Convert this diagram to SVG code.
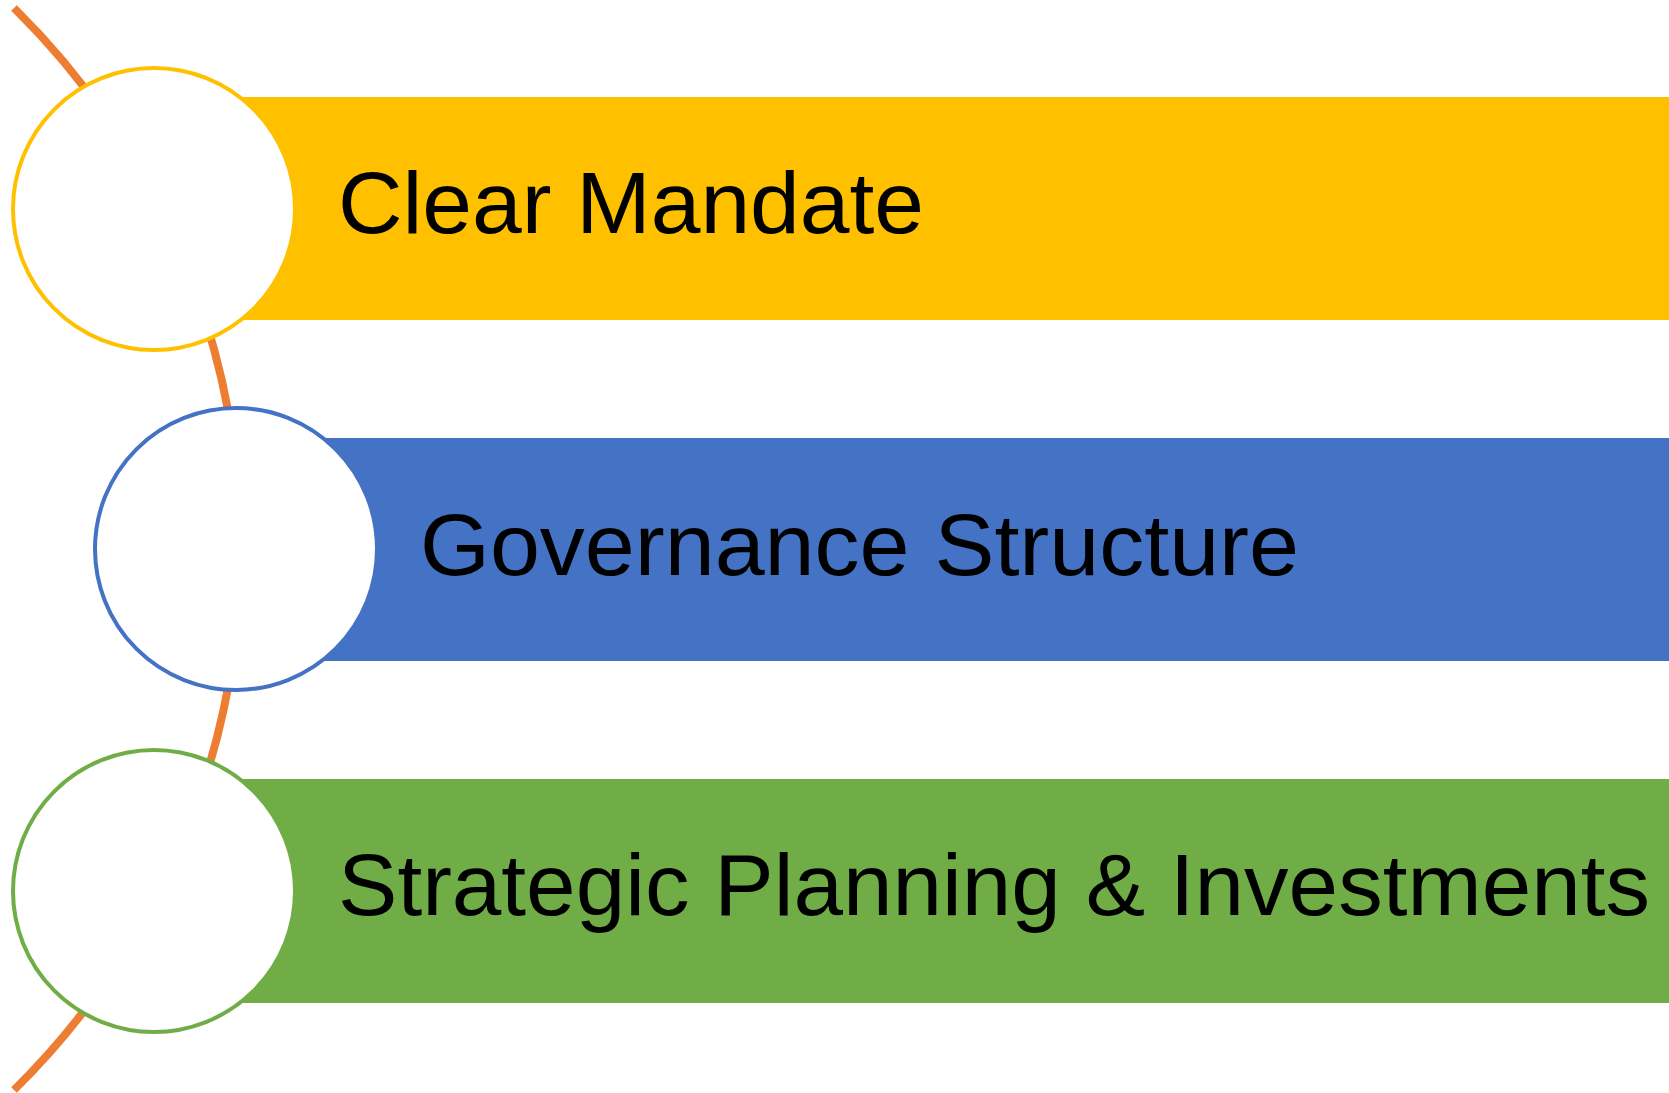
<svg xmlns="http://www.w3.org/2000/svg" width="1669" height="1093" viewBox="0 0 1669 1093">
<style>
.lbl{font-family:"Liberation Sans",Arial,sans-serif;font-size:88px;fill:#000}
.node circle{fill:#fff;stroke-width:4}
</style>
<rect width="1669" height="1093" fill="#fff"/>
<g id="connectors">
<path d="M14,8 A759,759 0 0 1 14,1090" fill="none" stroke="#ED7D31" stroke-width="8"/>
</g>
<g id="node1" class="node">
<rect x="240" y="97" width="1429" height="223" fill="#FFC000"/>
<circle cx="154" cy="209" r="141" stroke="#FFC000"/>
<text class="lbl" x="338" y="233" textLength="586" lengthAdjust="spacingAndGlyphs">Clear Mandate</text>
</g>
<g id="node2" class="node">
<rect x="322" y="438" width="1347" height="223" fill="#4472C4"/>
<circle cx="236" cy="549" r="141" stroke="#4472C4"/>
<text class="lbl" x="420" y="575" textLength="879" lengthAdjust="spacingAndGlyphs">Governance Structure</text>
</g>
<g id="node3" class="node">
<rect x="240" y="779" width="1429" height="224" fill="#70AD47"/>
<circle cx="154" cy="891" r="141" stroke="#70AD47"/>
<text class="lbl" x="338" y="915" textLength="1312" lengthAdjust="spacingAndGlyphs">Strategic Planning &amp; Investments</text>
</g>
</svg>
